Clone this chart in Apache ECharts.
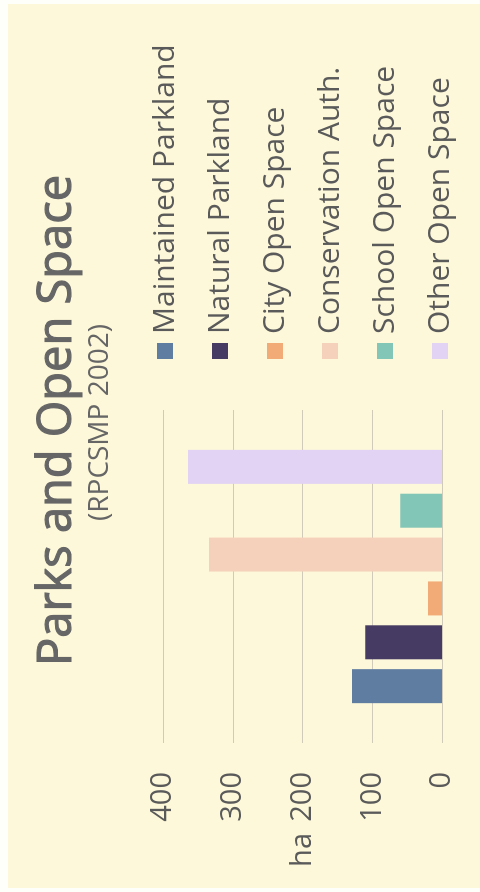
<!DOCTYPE html>
<html>
<head>
<meta charset="utf-8">
<title>Parks and Open Space</title>
<script src="https://cdn.jsdelivr.net/npm/echarts@6/dist/echarts.min.js"></script>
<style>
  html, body { margin: 0; padding: 0; width: 480px; height: 892px; overflow: hidden; background: #fefefa; }
  #panel { position: absolute; left: 8px; top: 4px; width: 472px; height: 884px; background: #fdf8d9; }
  /* the chart is laid out landscape and turned a quarter turn so it reads bottom-to-top */
  #chart { position: absolute; left: 0; top: 892px; width: 892px; height: 480px;
           transform-origin: 0 0; transform: rotate(-90deg); }
</style>
</head>
<body>
<div id="panel"></div>
<div id="chart"></div>
<script>
// land categories and their areas in hectares
const categories = ['Maintained Parkland', 'Natural Parkland', 'City Open Space',
                    'Conservation Auth.', 'School Open Space', 'Other Open Space'];
const areas = [129, 110, 20, 334, 60, 364];
const valueTicks = [0, 100, 200, 300, 400];

const palette = ['#5f7da0', '#463c63', '#f2ab76', '#f5d1bb', '#82c6b8', '#e2d2f4'];
const FONT = '"Open Sans", "DejaVu Sans", sans-serif';

const chart = echarts.init(document.getElementById('chart'), null, { renderer: 'canvas' });

const series = categories.map((name, i) => ({
  name: name,
  type: 'bar',
  data: [areas[i]],
  barWidth: 34,
  barGap: '29%',
  itemStyle: { color: palette[i] },
  silent: true
}));

chart.setOption({
  animation: false,
  backgroundColor: 'transparent',
  title: [
    {
      text: 'Parks and Open Space',
      left: 221, top: 29,
      textStyle: { fontFamily: FONT, fontSize: 47, fontWeight: 'normal', color: '#666666',
                   textBorderColor: '#666666', textBorderWidth: 1.2 }
    },
    {
      text: '(RPCSMP 2002)',
      left: 366, top: 81,
      textStyle: { fontFamily: FONT, fontSize: 28, fontWeight: 'normal', color: '#666666' }
    }
  ],
  legend: {
    orient: 'vertical',
    left: 528, top: 145,
    itemWidth: 16, itemHeight: 16,
    itemGap: 25,
    icon: 'rect',
    selectedMode: false,
    textStyle: { fontFamily: FONT, fontSize: 30, lineHeight: 28, color: '#5a5a5a', padding: [0, 0, 0, 4] },
    data: categories
  },
  grid: { left: 149, right: 410, top: 163, bottom: 38, containLabel: false },
  xAxis: {
    type: 'category',
    data: [''],
    axisLine: { show: false },
    axisTick: { show: false },
    axisLabel: { show: false }
  },
  yAxis: {
    type: 'value',
    min: valueTicks[0],
    max: valueTicks[valueTicks.length - 1],
    interval: valueTicks[1] - valueTicks[0],
    name: 'ha',
    nameLocation: 'middle',
    nameRotate: 0,
    nameGap: 90,
    nameTextStyle: { fontFamily: FONT, fontSize: 29, color: '#5a5a5a' },
    axisLine: { show: false },
    axisTick: { show: false },
    axisLabel: { margin: 29, fontFamily: FONT, fontSize: 29, color: '#5a5a5a' },
    splitLine: { lineStyle: { color: '#d0cbb9', width: 1 } }
  },
  series: series
});
</script>
</body>
</html>
